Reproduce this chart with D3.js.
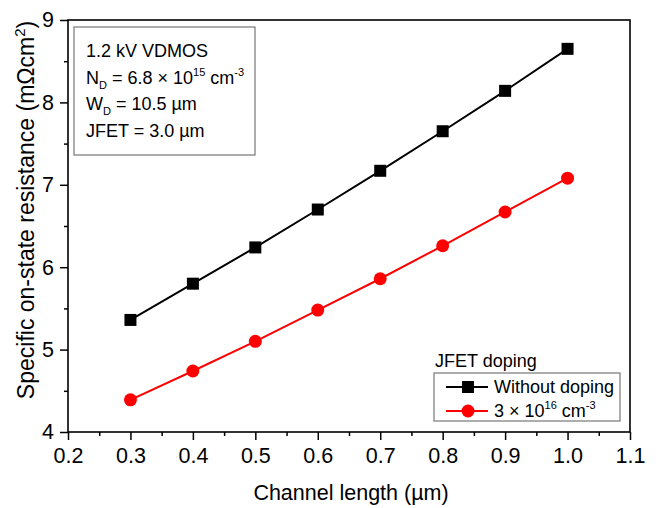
<!DOCTYPE html>
<html>
<head>
<meta charset="utf-8">
<script src="https://cdn.jsdelivr.net/npm/d3@7"></script>
<style>
  body { margin: 0; background: #fff; }
  text { font-family: Arial, "Liberation Sans", sans-serif; fill: #000; }
</style>
</head>
<body>
<svg id="chart" width="661" height="508"></svg>
<script>
// channel length (um)
const channelLength = [0.3, 0.4, 0.5, 0.6, 0.7, 0.8, 0.9, 1.0];
// specific on-state resistance (mOhm cm2)
const withoutDoping = [5.36, 5.80, 6.24, 6.70, 7.17, 7.65, 8.14, 8.65];
const doped3e16 = [4.39, 4.74, 5.10, 5.48, 5.86, 6.26, 6.67, 7.08];
const xTicks = [0.2, 0.3, 0.4, 0.5, 0.6, 0.7, 0.8, 0.9, 1.0, 1.1];
const xMinorTicks = [0.25, 0.35, 0.45, 0.55, 0.65, 0.75, 0.85, 0.95, 1.05];
const yTicks = [4, 5, 6, 7, 8, 9];
const yMinorTicks = [4.5, 5.5, 6.5, 7.5, 8.5];

const svg = d3.select("#chart");
const plotLeft = 68, plotRight = 630, plotTop = 20, plotBottom = 432;

const x = d3.scaleLinear().domain([0.2, 1.1]).range([plotLeft, plotRight]);
const y = d3.scaleLinear().domain([4, 9]).range([plotBottom, plotTop]);

// frame
svg.append("rect")
  .attr("x", plotLeft).attr("y", plotTop)
  .attr("width", plotRight - plotLeft).attr("height", plotBottom - plotTop)
  .attr("fill", "none").attr("stroke", "#000").attr("stroke-width", 1.6);

// x axis
let xAxis = svg.append("g")
  .attr("transform", "translate(0," + plotBottom + ")")
  .call(d3.axisBottom(x).tickValues(xTicks).tickFormat(d3.format(".1f")).tickSize(8).tickPadding(8));
xAxis.select(".domain").remove();
xAxis.selectAll("line").attr("stroke-width", 1.5);
xAxis.selectAll("text").style("font-size", "21.5px").attr("fill", "#000");
svg.append("g")
  .attr("transform", "translate(0," + plotBottom + ")")
  .call(d3.axisBottom(x).tickValues(xMinorTicks).tickFormat("").tickSize(4))
  .call(g => g.select(".domain").remove())
  .selectAll("line").attr("stroke-width", 1.5);

// y axis
let yAxis = svg.append("g")
  .attr("transform", "translate(" + plotLeft + ",0)")
  .call(d3.axisLeft(y).tickValues(yTicks).tickFormat(d3.format("d")).tickSize(8).tickPadding(6));
yAxis.select(".domain").remove();
yAxis.selectAll("line").attr("stroke-width", 1.5);
yAxis.selectAll("text").style("font-size", "21.5px").attr("fill", "#000");
svg.append("g")
  .attr("transform", "translate(" + plotLeft + ",0)")
  .call(d3.axisLeft(y).tickValues(yMinorTicks).tickFormat("").tickSize(4))
  .call(g => g.select(".domain").remove())
  .selectAll("line").attr("stroke-width", 1.5);

// axis titles
svg.append("text")
  .attr("x", 351).attr("y", 500)
  .attr("text-anchor", "middle").style("font-size", "21.5px")
  .text("Channel length (µm)");

let yTitle = svg.append("text")
  .attr("transform", "translate(34,210) rotate(-90)")
  .attr("text-anchor", "middle").style("font-size", "23px");
yTitle.append("tspan").text("Specific on-state resistance (mΩcm");
yTitle.append("tspan").attr("dy", -9).style("font-size", "15px").text("2");
yTitle.append("tspan").attr("dy", 9).text(")");

// series
const series = [
  { name: "Without doping", values: withoutDoping, color: "#000", shape: "square" },
  { name: "doped", values: doped3e16, color: "#ff0000", shape: "circle" }
];

const line = d3.line().x(d => x(d[0])).y(d => y(d[1]));

function drawMarker(g, shape, color, cx, cy) {
  if (shape === "square") {
    g.append("rect").attr("x", cx - 6).attr("y", cy - 6)
      .attr("width", 12).attr("height", 12).attr("fill", color);
  } else {
    g.append("circle").attr("cx", cx).attr("cy", cy).attr("r", 6.5).attr("fill", color);
  }
}

series.forEach(function (s) {
  let pts = channelLength.map((c, i) => [c, s.values[i]]);
  svg.append("path").attr("d", line(pts))
    .attr("fill", "none").attr("stroke", s.color).attr("stroke-width", 2);
  let g = svg.append("g");
  pts.forEach(p => drawMarker(g, s.shape, s.color, x(p[0]), y(p[1])));
});

// annotation box
svg.append("rect")
  .attr("x", 74).attr("y", 27).attr("width", 181).attr("height", 128)
  .attr("fill", "#fff").attr("stroke", "#777").attr("stroke-width", 1.2);

const fs = "18px", small = "11px";
svg.append("text").attr("x", 86).attr("y", 57).style("font-size", fs).text("1.2 kV VDMOS");
let l2 = svg.append("text").attr("x", 86).attr("y", 84).style("font-size", fs);
l2.append("tspan").text("N");
l2.append("tspan").attr("dy", 5).style("font-size", small).text("D");
l2.append("tspan").attr("dy", -5).text(" = 6.8 × 10");
l2.append("tspan").attr("dy", -8).style("font-size", small).text("15");
l2.append("tspan").attr("dy", 8).text(" cm");
l2.append("tspan").attr("dy", -8).style("font-size", small).text("-3");
let l3 = svg.append("text").attr("x", 86).attr("y", 110).style("font-size", fs);
l3.append("tspan").text("W");
l3.append("tspan").attr("dy", 5).style("font-size", small).text("D");
l3.append("tspan").attr("dy", -5).text(" = 10.5 µm");
svg.append("text").attr("x", 86).attr("y", 137).style("font-size", fs).text("JFET = 3.0 µm");

// legend
svg.append("text").attr("x", 435).attr("y", 367).style("font-size", fs).text("JFET doping");
svg.append("rect")
  .attr("x", 434).attr("y", 373).attr("width", 186).attr("height", 48)
  .attr("fill", "#fff").attr("stroke", "#777").attr("stroke-width", 1.2);

const legendRows = [387, 411];
series.forEach(function (s, i) {
  let ly = legendRows[i];
  let g = svg.append("g");
  g.append("line").attr("x1", 446).attr("x2", 488).attr("y1", ly).attr("y2", ly)
    .attr("stroke", s.color).attr("stroke-width", 2);
  drawMarker(g, s.shape, s.color, 468, ly);
});
svg.append("text").attr("x", 494).attr("y", 393).style("font-size", fs).text("Without doping");
let lg2 = svg.append("text").attr("x", 494).attr("y", 417).style("font-size", fs);
lg2.append("tspan").text("3 × 10");
lg2.append("tspan").attr("dy", -8).style("font-size", small).text("16");
lg2.append("tspan").attr("dy", 8).text(" cm");
lg2.append("tspan").attr("dy", -8).style("font-size", small).text("-3");
</script>
</body>
</html>
